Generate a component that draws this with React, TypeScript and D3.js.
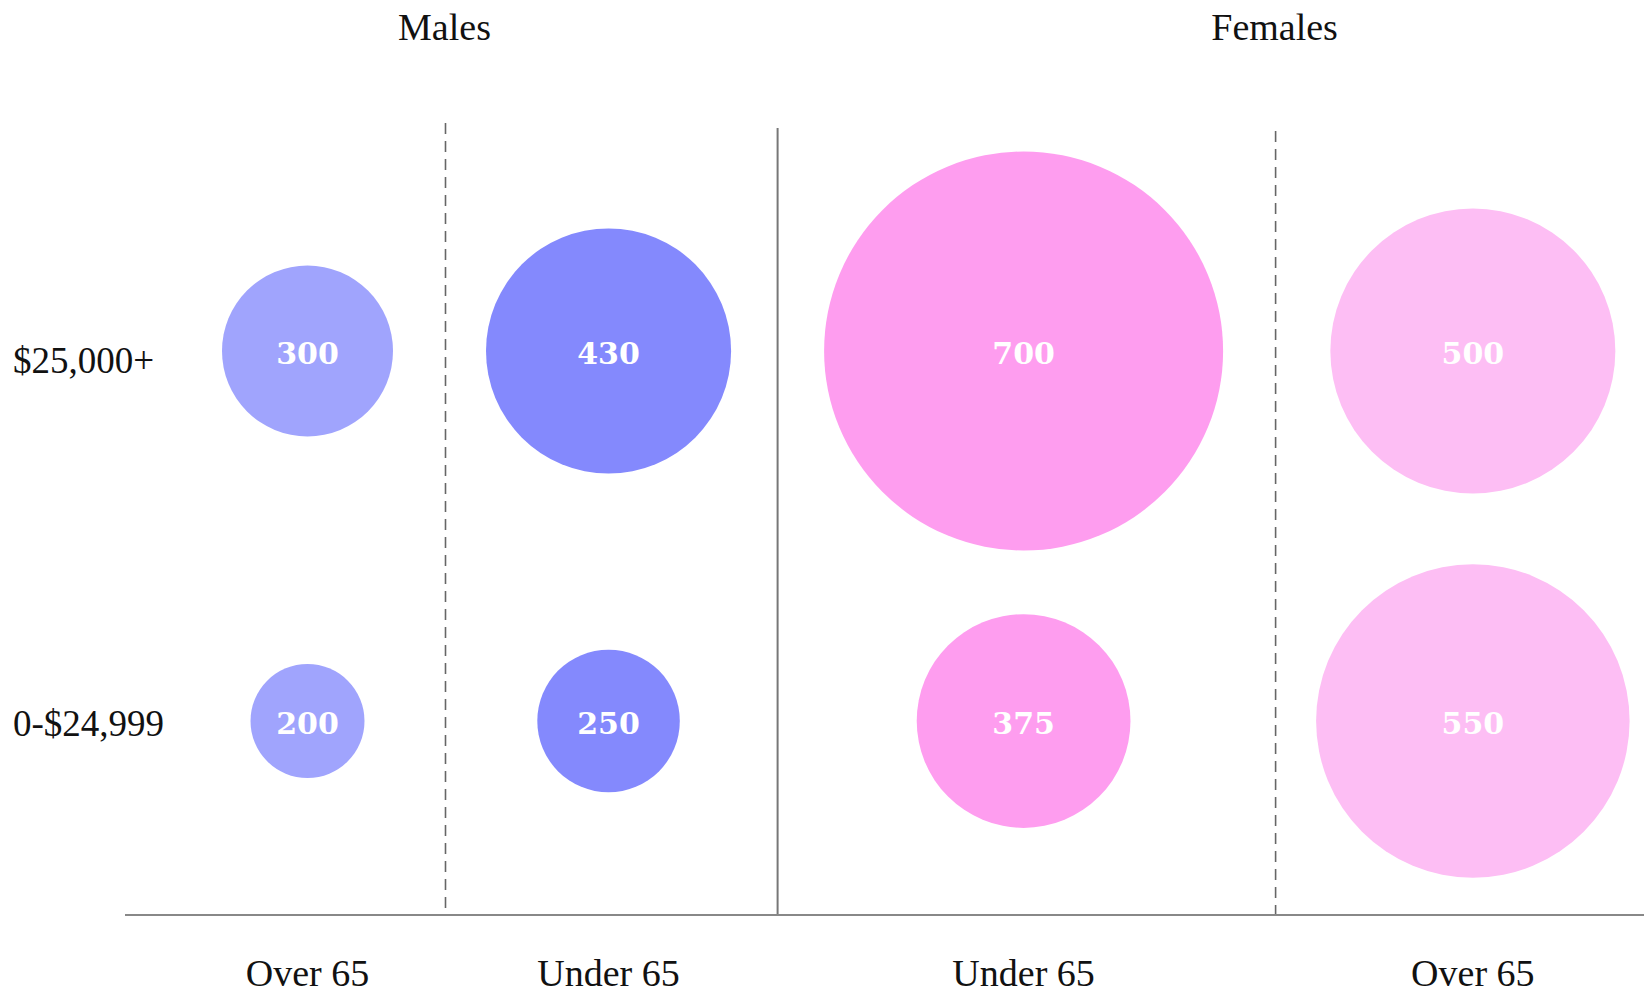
import * as d3 from "d3";

const ageLabels = ["Over 65", "Under 65", "Under 65", "Over 65"];
const columnGroups = ["Males", "Males", "Females", "Females"];
const groups = ["Males", "Females"];
const incomeRows = ["$25,000+", "0-$24,999"];
const highIncome = [300, 430, 700, 500];
const lowIncome = [200, 250, 375, 550];
const columnColors = ["#a0a4fd", "#8489fd", "#fe9def", "#fdbef4"];

const width = 1644;
const height = 994;
const font = "'Liberation Serif', 'Times New Roman', serif";
const numberFont = "'DejaVu Serif', Georgia, serif";

const App = () => {
  const rows = [highIncome, lowIncome];
  const r = d3.scaleLinear().domain([0, 700]).range([0, 199.5]);
  const y = d3.scalePoint<string>().domain(incomeRows).range([351, 721]);

  // columns are packed side by side, sized by their biggest bubble
  const colMax = ageLabels.map((_, i) => d3.max(rows, (row) => row[i]) as number);
  const left = 222;
  const gap = 93;
  const centers: number[] = [];
  let cursor = left;
  colMax.forEach((v) => {
    centers.push(cursor + r(v));
    cursor += 2 * r(v) + gap;
  });
  // solid line splits the groups, dashed lines split ages inside a group
  const isGroupSplit = centers.slice(1).map((_, i) => columnGroups[i] !== columnGroups[i + 1]);
  const dividers = centers.slice(1).map((c, i) => {
    const prevEdge = centers[i] + r(colMax[i]);
    const nextEdge = c - r(colMax[i + 1]);
    return (prevEdge + nextEdge) / 2 + (isGroupSplit[i] ? 0 : 6);
  });
  const baseY = 915;

  // group titles sit over the dashed line inside each group
  const groupTitleX = groups.map((g) => dividers[columnGroups.indexOf(g)]);

  return (
    <svg
      width={width}
      height={height}
      style={{ position: "absolute", left: 0, top: 0, background: "#fff" }}
    >
      {groups.map((g, i) => (
        <text
          key={g}
          x={groupTitleX[i] - 1}
          y={27}
          textAnchor="middle"
          dominantBaseline="central"
          fontFamily={font}
          fontSize={38}
          fill="#111"
        >
          {g}
        </text>
      ))}

      {dividers.map((x, i) => (
        <line
          key={i}
          x1={x}
          x2={x}
          y1={isGroupSplit[i] ? 128 : 123 + i * 4}
          y2={baseY}
          stroke={isGroupSplit[i] ? "#777" : "#666"}
          strokeWidth={isGroupSplit[i] ? 2 : 1.6}
          strokeDasharray={isGroupSplit[i] ? undefined : "11 7"}
        />
      ))}

      <line x1={125} x2={width} y1={baseY} y2={baseY} stroke="#888" strokeWidth={2} />

      {incomeRows.map((label, i) => (
        <text
          key={label}
          x={13}
          y={(y(label) as number) + (i === 0 ? 9 : 2)}
          dominantBaseline="central"
          fontFamily={font}
          fontSize={37}
          fill="#111"
        >
          {label}
        </text>
      ))}

      {rows.map((row, ri) =>
        row.map((v, ci) => (
          <g key={`${ri}-${ci}`}>
            <circle
              cx={centers[ci]}
              cy={y(incomeRows[ri])}
              r={r(v)}
              fill={columnColors[ci]}
            />
            <text
              x={centers[ci]}
              y={(y(incomeRows[ri]) as number) + 2}
              textAnchor="middle"
              dominantBaseline="central"
              fontFamily={numberFont}
              fontWeight={700}
              fontSize={30}
              fill="#fff"
            >
              {v}
            </text>
          </g>
        ))
      )}

      {ageLabels.map((label, i) => (
        <text
          key={i}
          x={centers[i]}
          y={973}
          textAnchor="middle"
          dominantBaseline="central"
          fontFamily={font}
          fontSize={38}
          fill="#111"
        >
          {label}
        </text>
      ))}
    </svg>
  );
};

export default App;
